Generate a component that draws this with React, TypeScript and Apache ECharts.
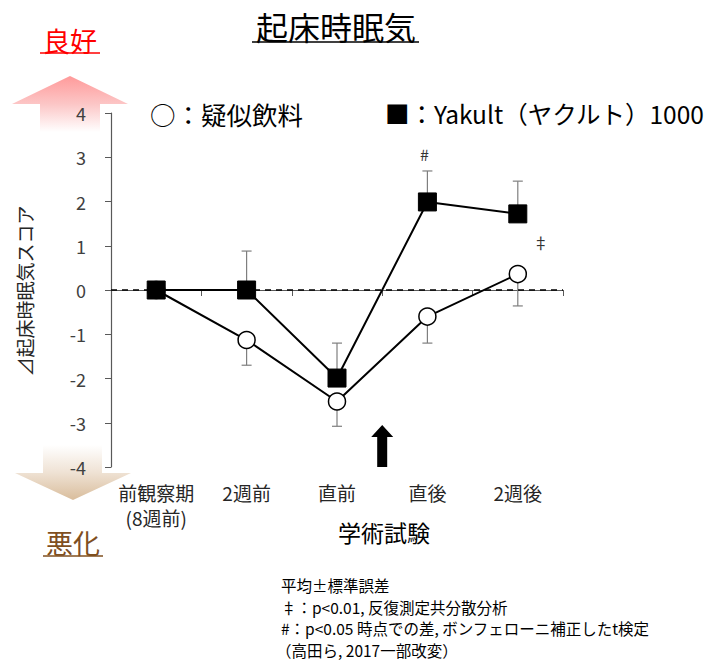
import React, { useEffect, useRef } from "react";
import * as echarts from "echarts";

const categories = ["前観察期\n(8週前)", "2週前", "直前", "直後", "2週後"];
const placeboMean = [0, -1.13, -2.52, -0.6, 0.36];
const placeboSE = [0, 0.57, 0.56, 0.6, 0.72];
const yakultMean = [0, 0, -1.99, 1.99, 1.72];
const yakultSE = [0, 0.88, 0.79, 0.7, 0.74];
const yMin = -4;
const yMax = 4;
const yInterval = 1;
const footnotes = [
  "平均±標準誤差",
  "‡：p<0.01, 反復測定共分散分析",
  "#：p<0.05 時点での差, ボンフェローニ補正したt検定",
  "（高田ら, 2017一部改変）",
];

const FONT = "'Noto Sans CJK JP', 'Noto Sans', sans-serif";

export default function App() {
  const ref = useRef<HTMLDivElement>(null);
  useEffect(() => {
    if (!ref.current) return;
    const chart = echarts.init(ref.current, undefined, { renderer: "svg" });

    const errRender = (params: any, api: any) => {
      const x = api.value(0);
      const m = api.value(1);
      const e = api.value(2);
      if (m === e) return null;
      const p1 = api.coord([x, m]);
      const p2 = api.coord([x, e]);
      const style = { stroke: "#7f7f7f", lineWidth: 1.2 };
      return {
        type: "group",
        children: [
          { type: "line", shape: { x1: p1[0], y1: p1[1], x2: p2[0], y2: p2[1] }, style },
          { type: "line", shape: { x1: p2[0] - 5, y1: p2[1], x2: p2[0] + 5, y2: p2[1] }, style },
        ],
      };
    };

    const placeboErr = placeboMean.map((m, i) => [i, m, m - placeboSE[i]]);
    const yakultErr = yakultMean.map((m, i) => [i, m, m + yakultSE[i]]);

    const option: any = {
      animation: false,
      textStyle: { fontFamily: FONT },
      grid: { left: 111, right: 148, top: 113, bottom: 196 },
      xAxis: {
        type: "category",
        data: categories,
        boundaryGap: true,
        axisLine: { lineStyle: { color: "#595959", width: 1.2 } },
        axisTick: { show: true, length: 6, lineStyle: { color: "#595959" } },
        axisLabel: {
          color: "#262626",
          fontSize: 19,
          fontFamily: FONT,
          margin: 13,
          lineHeight: 25,
          interval: 0,
        },
      },
      yAxis: {
        type: "value",
        min: yMin,
        max: yMax,
        interval: yInterval,
        splitLine: { show: false },
        axisLine: { show: true, lineStyle: { color: "#595959", width: 1.2 } },
        axisTick: { show: true, length: 6, lineStyle: { color: "#595959" } },
        axisLabel: { color: "#404040", fontSize: 18, fontFamily: FONT, margin: 25 },
      },
      series: [
        { type: "custom", renderItem: errRender, data: placeboErr, z: 1, silent: true },
        { type: "custom", renderItem: errRender, data: yakultErr, z: 1, silent: true },
        {
          name: "疑似飲料",
          type: "line",
          data: placeboMean,
          symbol: "circle",
          symbolSize: 17,
          lineStyle: { color: "#000", width: 2 },
          itemStyle: { color: "#fff", borderColor: "#000", borderWidth: 1.5 },
          z: 3,
          markLine: {
            silent: true,
            symbol: "none",
            label: { show: false },
            lineStyle: { color: "#000", type: [6, 5], width: 1.5 },
            data: [{ yAxis: 0 }],
          },
        },
        {
          name: "Yakult（ヤクルト）1000",
          type: "line",
          data: yakultMean,
          symbol: "rect",
          symbolSize: 18,
          lineStyle: { color: "#000", width: 2 },
          itemStyle: { color: "#000", borderColor: "#000", borderWidth: 1 },
          z: 4,
        },
      ],
    };
    chart.setOption(option);

    const pt = (x: number, y: number) =>
      chart.convertToPixel({ xAxisIndex: 0, yAxisIndex: 0 }, [x, y]) as number[];
    const c2 = pt(2, yMin);
    const c3 = pt(3, yMin);
    const arrowX = (c2[0] + c3[0]) / 2;
    const arrowBase = c2[1];
    const hashPos = pt(3, yakultMean[3] + yakultSE[3]);
    const ddPos = pt(4, yakultMean[4]);

    const graphics: any[] = [
      {
        type: "text",
        x: 336,
        y: 26,
        style: { text: "起床時眠気", font: `32px ${FONT}`, fill: "#000", align: "center", verticalAlign: "middle" },
      },
      { type: "line", shape: { x1: 252, y1: 42, x2: 419, y2: 42 }, style: { stroke: "#000", lineWidth: 1.5 } },
      {
        type: "text",
        x: 70,
        y: 40,
        style: { text: "良好", font: `27px ${FONT}`, fill: "#ff0000", align: "center", verticalAlign: "middle" },
      },
      { type: "line", shape: { x1: 40, y1: 53, x2: 100, y2: 53 }, style: { stroke: "#ff0000", lineWidth: 1.5 } },
      {
        type: "polygon",
        z: -10,
        shape: { points: [[12, 104], [70, 76], [128, 104], [100, 104], [100, 132], [40, 132], [40, 104]] },
        style: {
          fill: new echarts.graphic.LinearGradient(0, 0, 0, 1, [
            { offset: 0, color: "#ff9a9a" },
            { offset: 0.5, color: "#fcc6c6" },
            { offset: 1, color: "#ffffff" },
          ]),
        },
      },
      {
        type: "polygon",
        z: -10,
        shape: { points: [[43, 445], [102, 445], [102, 473], [131, 473], [73, 500], [15, 473], [43, 473]] },
        style: {
          fill: new echarts.graphic.LinearGradient(0, 0, 0, 1, [
            { offset: 0, color: "#ffffff" },
            { offset: 0.5, color: "#efe2d4" },
            { offset: 1, color: "#d9bd9c" },
          ]),
        },
      },
      {
        type: "text",
        x: 73,
        y: 542,
        style: { text: "悪化", font: `27px ${FONT}`, fill: "#7f4f1f", align: "center", verticalAlign: "middle" },
      },
      { type: "line", shape: { x1: 43, y1: 556, x2: 103, y2: 556 }, style: { stroke: "#7f4f1f", lineWidth: 1.5 } },
      {
        type: "text",
        x: 150,
        y: 113,
        style: { text: "○：疑似飲料", font: `25.5px ${FONT}`, fill: "#000", align: "left", verticalAlign: "middle" },
      },
      {
        type: "text",
        x: 385,
        y: 113,
        style: { text: "■：Yakult（ヤクルト）1000", font: `24.5px ${FONT}`, fill: "#000", align: "left", verticalAlign: "middle" },
      },
      {
        type: "text",
        x: 24,
        y: 291,
        rotation: Math.PI / 2,
        style: { text: "⊿起床時眠気スコア", font: `19px ${FONT}`, fill: "#262626", align: "center", verticalAlign: "middle" },
      },
      {
        type: "text",
        x: 384,
        y: 532,
        style: { text: "学術試験", font: `23px ${FONT}`, fill: "#000", align: "center", verticalAlign: "middle" },
      },
      {
        type: "polygon",
        shape: {
          points: [
            [arrowX - 5, arrowBase],
            [arrowX - 5, arrowBase - 30],
            [arrowX - 11, arrowBase - 30],
            [arrowX, arrowBase - 42],
            [arrowX + 11, arrowBase - 30],
            [arrowX + 5, arrowBase - 30],
            [arrowX + 5, arrowBase],
          ],
        },
        style: { fill: "#000" },
      },
      {
        type: "text",
        x: hashPos[0] - 3,
        y: hashPos[1] - 17,
        style: { text: "#", font: `16px ${FONT}`, fill: "#333", align: "center", verticalAlign: "middle" },
      },
      {
        type: "text",
        x: ddPos[0] + 23,
        y: ddPos[1] + 28,
        style: { text: "‡", font: `16px ${FONT}`, fill: "#333", align: "center", verticalAlign: "middle" },
      },
    ];
    footnotes.forEach((t, i) => {
      graphics.push({
        type: "text",
        x: i === 3 ? 276 : 281,
        y: 585 + i * 21.5,
        style: {
          text: t,
          font: `15.5px ${FONT}`,
          lineHeight: 20,
          fill: "#000",
          align: "left",
          verticalAlign: "middle",
        },
      });
    });
    chart.setOption({ graphic: graphics });

    return () => chart.dispose();
  }, []);
  return <div ref={ref} style={{ position: "absolute", left: 0, top: 0, width: 711, height: 663 }} />;
}
